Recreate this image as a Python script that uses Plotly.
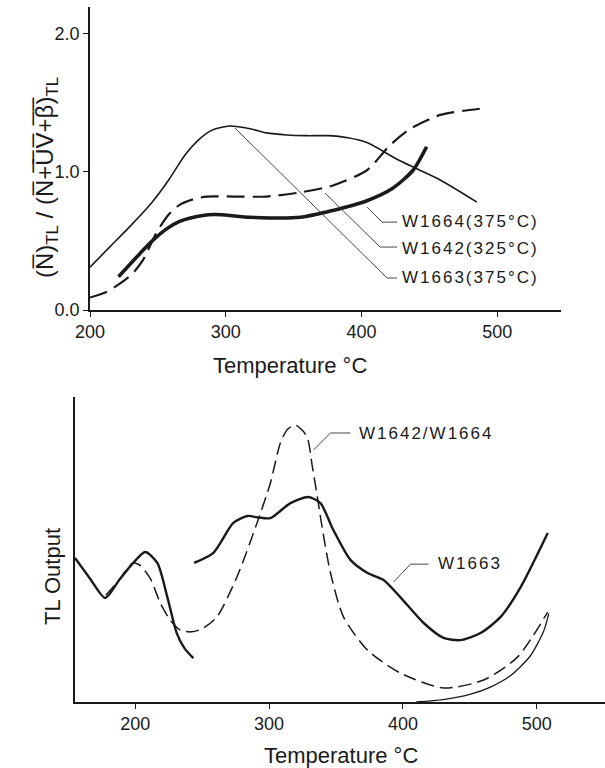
import plotly.graph_objects as go

# ---------------- top panel data ----------------
top_w1664_t = [200, 215, 230, 245, 258, 270, 280, 290, 303, 318, 330, 345, 360, 375, 390, 404, 428, 458, 485]
top_w1664_y = [0.31, 0.46, 0.61, 0.77, 0.94, 1.12, 1.23, 1.30, 1.33, 1.31, 1.28, 1.265, 1.26, 1.26, 1.245, 1.21, 1.08, 0.94, 0.78]

top_w1642_t = [200, 212, 222, 231, 239, 249, 258, 266, 276, 286, 306, 330, 355, 379, 404, 421, 436, 458, 475, 492]
top_w1642_y = [0.09, 0.13, 0.19, 0.26, 0.36, 0.56, 0.69, 0.76, 0.80, 0.82, 0.82, 0.82, 0.85, 0.90, 1.01, 1.19, 1.31, 1.41, 1.44, 1.46]

top_w1663_t = [221, 237, 247, 257, 266, 274, 291, 318, 355, 379, 404, 423, 438, 448]
top_w1663_y = [0.24, 0.41, 0.51, 0.59, 0.64, 0.665, 0.69, 0.67, 0.67, 0.72, 0.79, 0.88, 1.01, 1.18]

top_labels = ["W1664(375°C)", "W1642(325°C)", "W1663(375°C)"]
top_label_t = [428.5, 428.5, 428.5]
top_label_y = [0.643, 0.448, 0.238]
top_lead_t = [[404.1, 415.2, 426.2], [373.2, 413.7, 426.2], [306.9, 418.9, 426.2]]
top_lead_y = [[0.744, 0.635, 0.635], [0.845, 0.455, 0.455], [1.314, 0.231, 0.231]]

top_xticks = [200, 300, 400, 500]
top_yticks = [0.0, 1.0, 2.0]

# ---------------- bottom panel data ----------------
bot_w1663a_t = [155, 166, 177.6, 188, 198.5, 207.5, 216.5, 224, 231, 237, 243.4]
bot_w1663a_v = [47.2, 40.6, 34.1, 40, 45.6, 49.2, 45.6, 34.4, 22.6, 17.5, 14.4]

bot_w1663b_t = [244, 258.4, 273.3, 283.8, 292, 301, 316, 329.4, 338.4, 348, 360.8, 373.6,
                385.5, 398, 415.5, 430.4, 443, 458, 473, 488, 508.2]
bot_w1663b_v = [45.6, 48.9, 58.7, 61, 60.5, 60.3, 65.2, 67.2, 65.2, 56.4, 46.6, 42.3,
                40, 34.4, 25.9, 21, 20.3, 22.6, 27.9, 37.7, 55.4]

bot_w1642_t = [178, 188, 198, 203, 211, 218.7, 226, 234, 242, 250, 261, 276, 291, 301, 308.5,
               314, 319.7, 325, 328.7, 332.4, 336.2, 339, 345.9, 355.6, 373.6, 398, 430.4,
               460.3, 485.8, 508.2]
bot_w1642_v = [35, 40, 45.5, 45, 40.7, 32.5, 26.9, 23.5, 23, 24, 27.9, 41, 58.7, 71.8, 85,
               89.5, 90.8, 89, 86.6, 77, 67, 59, 42.3, 27.9, 17, 9.5, 4.6,
               7.2, 14.8, 29.5]

bot_thin_t = [410, 430, 450, 465, 480, 495, 505, 509]
bot_thin_v = [0, 0.8, 2.5, 4.8, 8.5, 15, 23, 29]

bot_labels = ["W1642/W1664", "W1663"]
bot_label_t = [366, 424.5]
bot_label_v = [88, 45.5]
bot_lead_t = [[333.2, 345.9, 360.8], [393, 405.7, 419.2]]
bot_lead_v = [[82.6, 88.2, 88.2], [39.3, 45.2, 45.2]]

bot_xticks = [200, 300, 400, 500]

FONT = "Liberation Sans, Arial, Helvetica, sans-serif"
INK = "#1a1a1a"

fig = go.Figure()

def line(x, y, xa, ya, width, dash="solid"):
    fig.add_trace(go.Scatter(x=x, y=y, xaxis=xa, yaxis=ya, mode="lines",
                             line=dict(color=INK, width=width, dash=dash, shape="spline", smoothing=0.7),
                             showlegend=False, hoverinfo="skip"))

def leader(x, y, xa, ya):
    fig.add_trace(go.Scatter(x=x, y=y, xaxis=xa, yaxis=ya, mode="lines",
                             line=dict(color="#333", width=0.9),
                             showlegend=False, hoverinfo="skip"))

# top curves
line(top_w1664_t, top_w1664_y, "x", "y", 1.6)
line(top_w1642_t, top_w1642_y, "x", "y", 2.2, "18px,8px")
line(top_w1663_t, top_w1663_y, "x", "y", 3.6)
for lt, ly in zip(top_lead_t, top_lead_y):
    leader(lt, ly, "x", "y")

# bottom curves
line(bot_w1663a_t, bot_w1663a_v, "x2", "y2", 2.4)
line(bot_w1663b_t, bot_w1663b_v, "x2", "y2", 2.4)
line(bot_w1642_t, bot_w1642_v, "x2", "y2", 1.5, "13px,6px")
line(bot_thin_t, bot_thin_v, "x2", "y2", 1.3)
for lt, lv in zip(bot_lead_t, bot_lead_v):
    leader(lt, lv, "x2", "y2")

annotations = []
for txt, t, y in zip(top_labels, top_label_t, top_label_y):
    annotations.append(dict(x=t, y=y, xref="x", yref="y", xanchor="left", yanchor="middle",
                            text='<span style="letter-spacing:2px">%s</span>' % txt, showarrow=False,
                            font=dict(family=FONT, size=17, color=INK)))
for txt, t, v in zip(bot_labels, bot_label_t, bot_label_v):
    annotations.append(dict(x=t, y=v, xref="x2", yref="y2", xanchor="left", yanchor="middle",
                            text='<span style="letter-spacing:2px">%s</span>' % txt, showarrow=False,
                            font=dict(family=FONT, size=17, color=INK)))

W, H = 605, 768
over = "".join(c + "\u0305" for c in "N+UV+β")
ytitle_top = "(N\u0305)<sub>TL</sub> / (" + over + ")<sub>TL</sub>"
annotations += [
    dict(x=290 / W, y=1 - 365 / H, xref="paper", yref="paper", text="Temperature °C",
         xanchor="center", yanchor="middle",
         showarrow=False, font=dict(family=FONT, size=22, color=INK)),
    dict(x=341 / W, y=1 - 755 / H, xref="paper", yref="paper", text="Temperature °C",
         xanchor="center", yanchor="middle",
         showarrow=False, font=dict(family=FONT, size=22, color=INK)),
    dict(x=46 / W, y=1 - 177 / H, xref="paper", yref="paper", text=ytitle_top, textangle=-90,
         xanchor="center", yanchor="middle",
         showarrow=False, font=dict(family=FONT, size=24, color=INK)),
    dict(x=52 / W, y=1 - 577 / H, xref="paper", yref="paper", text="TL Output", textangle=-90,
         xanchor="center", yanchor="middle",
         showarrow=False, font=dict(family=FONT, size=22, color=INK)),
]

axis_common = dict(showline=True, linecolor=INK, linewidth=1.6, showgrid=False, zeroline=False,
                   ticks="outside", ticklen=5, tickwidth=1.2, tickcolor=INK, automargin=False,
                   tickfont=dict(family=FONT, size=18, color=INK))

fig.update_layout(
    width=W, height=H,
    margin=dict(l=0, r=0, t=0, b=0, pad=0, autoexpand=False),
    showlegend=False,
    paper_bgcolor="white", plot_bgcolor="white",
    xaxis=dict(domain=[90 / W, 561 / W], range=[200, 547], anchor="y",
               tickvals=top_xticks, **axis_common),
    yaxis=dict(domain=[1 - 310 / H, 1 - 7 / H], range=[0, 2.19], anchor="x",
               tickvals=top_yticks, tickformat=".1f", **axis_common),
    xaxis2=dict(domain=[75 / W, 1.0], range=[155, 551], anchor="y2",
                tickvals=bot_xticks, **axis_common),
    yaxis2=dict(domain=[1 - 702 / H, 1 - 397 / H], range=[0, 100], anchor="x2",
                showline=True, linecolor=INK, linewidth=1.6, showgrid=False, zeroline=False,
                ticks="", showticklabels=False, automargin=False),
    annotations=annotations,
)

fig.write_html("out.html", config={"displayModeBar": False},
               post_script="document.body.style.margin='0';document.body.style.overflow='hidden';")
